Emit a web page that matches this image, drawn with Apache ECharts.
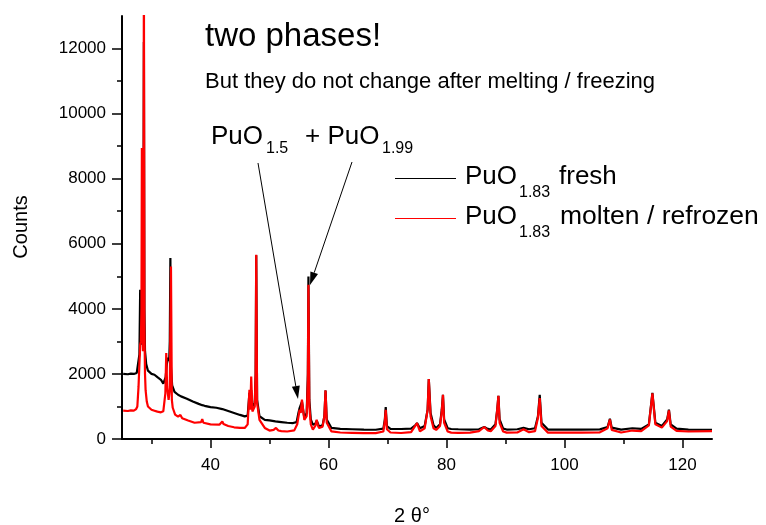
<!DOCTYPE html>
<html><head><meta charset="utf-8">
<script src="https://cdn.jsdelivr.net/npm/echarts@6.0.0/dist/echarts.min.js"></script>
<style>html,body{margin:0;padding:0;background:#fff}#c{width:766px;height:525px}</style>
</head><body><div id="c"></div>
<script>
// [2theta, counts]
const freshPoints = [[25.2,2000],[26,1990],[26.5,2010],[27,2000],[27.5,2030],[27.8,2080],[27.95,2600],[28.08,4590],[28.2,3000],[28.3,2900],[28.37,3300],[28.5,3100],[28.62,5000],[28.71,12200],[28.8,4000],[28.9,2700],[29.1,2300],[29.4,2100],[30,2000],[30.5,1975],[31,1900],[31.6,1820],[32.0,1700],[32.2,1640],[32.4,1900],[32.6,2300],[32.8,2500],[33.0,2400],[33.1,3000],[33.2,5560],[33.3,2200],[33.5,1650],[33.9,1450],[34.5,1360],[35,1310],[36,1240],[37,1150],[37.3,1110],[38,1080],[38.6,1040],[39,1020],[40,980],[41,960],[42,920],[43,860],[44,800],[45,740],[45.8,695],[46.3,720],[46.6,1420],[46.75,1000],[46.9,1500],[47.1,1000],[47.5,1100],[47.65,2000],[47.75,5650],[47.9,1200],[48.3,700],[49.2,590],[50,570],[51,540],[52,520],[53,500],[54,490],[54.6,520],[54.9,800],[55.1,950],[55.3,900],[55.5,1150],[55.9,650],[56.3,800],[56.5,2000],[56.6,4995],[56.75,1200],[57.0,600],[57.35,440],[57.8,480],[58.0,560],[58.2,480],[58.4,380],[59.0,420],[59.3,700],[59.5,1493],[59.7,600],[60.5,340],[62,310],[64,300],[66,290],[68,285],[69.3,320],[69.55,600],[69.7,983],[69.9,400],[70.5,310],[72.3,307],[74,320],[74.7,420],[75.0,490],[75.5,330],[76.3,400],[76.8,900],[77.0,1843],[77.3,800],[77.8,420],[78.25,340],[78.9,450],[79.2,900],[79.4,1360],[79.6,600],[80.2,330],[80.8,307],[82,300],[84,290],[85.5,300],[86.4,369],[87,310],[87.5,290],[88.3,450],[88.6,900],[88.8,1330],[89.0,600],[89.6,320],[90.2,290],[92,300],[93.05,340],[94,300],[95,330],[95.5,700],[95.8,1360],[96.1,500],[97.2,290],[100,290],[102.8,290],[106,295],[107.3,370],[107.7,623],[108,350],[109.6,290],[111.5,330],[113,310],[114.3,450],[114.9,1420],[115.4,500],[116.5,400],[117.4,600],[117.7,900],[118,450],[119,320],[121,290],[125,285]];
const moltenPoints = [[25.2,870],[26,860],[26.5,880],[27,870],[27.4,920],[27.6,1000],[27.8,1600],[27.95,2300],[28.08,2900],[28.2,3000],[28.3,4000],[28.37,8940],[28.45,3500],[28.55,2700],[28.63,4000],[28.71,14500],[28.8,3500],[28.9,2000],[29.0,1500],[29.2,1150],[29.4,1000],[30,900],[30.5,870],[31,840],[31.6,820],[32.0,850],[32.2,900],[32.35,1400],[32.5,2640],[32.65,1600],[32.9,1200],[33.1,1500],[33.3,5300],[33.45,1200],[33.6,960],[34.0,750],[34.5,685],[34.9,740],[35.2,640],[36.2,570],[37.3,500],[38.4,520],[38.6,614],[38.8,500],[40,450],[41.5,440],[42.0,540],[42.2,460],[43,400],[44,360],[45,340],[45.8,340],[46.3,450],[46.6,1515],[46.75,900],[46.9,1923],[47.1,848],[47.5,1000],[47.65,2000],[47.75,5660],[47.9,1100],[48.3,590],[49.2,340],[50,260],[50.7,280],[51.1,340],[51.5,260],[52,240],[53,230],[54.2,265],[54.7,450],[55.1,900],[55.3,800],[55.5,1210],[55.9,590],[56.3,700],[56.5,1800],[56.6,4740],[56.75,1000],[57.0,450],[57.35,285],[57.8,420],[58.0,590],[58.2,420],[58.4,340],[59.0,380],[59.3,700],[59.5,1493],[59.7,500],[60.5,235],[62,200],[64,190],[66,180],[68,180],[69.3,230],[69.55,550],[69.7,900],[69.9,300],[70.5,200],[72.3,184],[74,210],[74.7,400],[75.0,490],[75.5,235],[76.3,330],[76.8,900],[77.0,1843],[77.3,700],[77.8,330],[78.25,280],[78.9,400],[79.2,850],[79.4,1360],[79.6,500],[80.2,230],[80.8,195],[82,190],[84,195],[85.5,240],[86.4,369],[87,260],[87.5,240],[88.3,400],[88.6,900],[88.8,1330],[89.0,500],[89.6,230],[90.2,195],[92,200],[93.05,300],[94,210],[95,240],[95.5,650],[95.8,1260],[96.1,400],[97.2,195],[100,195],[102.8,195],[106,205],[107.3,330],[107.7,600],[108,280],[109.6,200],[111.5,260],[113,240],[114.3,420],[114.9,1400],[115.4,450],[116.5,350],[117.4,550],[117.7,880],[118,380],[119,250],[121,230],[125,240]];
const seriesNames = ['PuO1.83 fresh', 'PuO1.83 molten / refrozen'];
const seriesColors = ['#000000', '#ff0000'];
const xMajorTicks = [40, 60, 80, 100, 120];
const xMinorTicks = [30, 50, 70, 90, 110];
const yMajorTicks = [0, 2000, 4000, 6000, 8000, 10000, 12000];
const yMinorTicks = [1000, 3000, 5000, 7000, 9000, 11000];

const FONT = '"Liberation Sans", Arial, sans-serif';
const chart = echarts.init(document.getElementById('c'), null, {renderer: 'canvas'});

function txt(x, y, text, size, extra) {
  return {type: 'text', x: x, y: y, silent: true, z: 100,
    style: Object.assign({text: text, fontSize: size, fontFamily: FONT, fill: '#000', verticalAlign: 'middle', align: 'left'}, extra || {})};
}
function arrow(x1, y1, x2, y2) {
  const dx = x2 - x1, dy = y2 - y1, L = Math.hypot(dx, dy), ux = dx / L, uy = dy / L, hl = 13, hw = 4;
  const bx = x2 - ux * hl, by = y2 - uy * hl;
  return [
    {type: 'line', z: 100, silent: true, shape: {x1: x1, y1: y1, x2: bx, y2: by}, style: {stroke: '#000', lineWidth: 1}},
    {type: 'polygon', z: 100, silent: true, shape: {points: [[x2, y2], [bx - uy * hw, by + ux * hw], [bx + uy * hw, by - ux * hw]]}, style: {fill: '#000'}}
  ];
}

const axisCommon = {axisLine: {show: false}, splitLine: {show: false}, axisLabel: {show: false}};
const tickStyle = {color: '#000', width: 1.5};

const graphics = [
  txt(205, 37, 'two phases!', 33),
  txt(205, 82, 'But they do not change after melting / freezing', 22),
  txt(211, 137, 'PuO', 26),
  txt(266, 149, '1.5', 16),
  txt(305, 137, '+ PuO', 26),
  txt(382, 149, '1.99', 16),
  {type: 'line', silent: true, shape: {x1: 395, y1: 178.5, x2: 456, y2: 178.5}, style: {stroke: seriesColors[0], lineWidth: 1}},
  {type: 'line', silent: true, shape: {x1: 395, y1: 218.5, x2: 456, y2: 218.5}, style: {stroke: seriesColors[1], lineWidth: 1}},
  txt(465, 177, 'PuO', 26),
  txt(519, 193, '1.83', 16),
  txt(559, 177, 'fresh', 26),
  txt(465, 217, 'PuO', 26),
  txt(519, 233, '1.83', 16),
  txt(560, 217, 'molten / refrozen', 26.5),
  txt(21, 227, 'Counts', 20, {align: 'center'}),
  txt(412, 516, '2 \u03b8\u00b0', 20, {align: 'center'})
].concat(arrow(258, 163, 298, 399), arrow(352, 162, 310, 285));
graphics[14].rotation = Math.PI / 2;

chart.setOption({
  animation: false,
  backgroundColor: '#fff',
  grid: {left: 122, right: 54, top: 16, bottom: 86, containLabel: false, outerBoundsMode: 'none'},
  xAxis: [
    {type: 'value', min: 25, max: 125,
      axisLine: {show: true, onZero: false, lineStyle: {color: '#000', width: 2}},
      axisTick: {show: true, customValues: xMinorTicks, length: 5, lineStyle: tickStyle},
      axisLabel: {show: true, customValues: xMajorTicks, margin: 18, fontSize: 17, color: '#000', fontFamily: FONT,
        formatter: function (v) { return String(v); }},
      splitLine: {show: false}},
    Object.assign({type: 'value', min: 25, max: 125, position: 'bottom',
      axisTick: {show: true, customValues: xMajorTicks, length: 9, lineStyle: tickStyle}}, axisCommon)
  ],
  yAxis: [
    {type: 'value', min: 0, max: 13000,
      axisLine: {show: true, onZero: false, lineStyle: {color: '#000', width: 2}},
      axisTick: {show: true, customValues: yMinorTicks, length: 5, lineStyle: tickStyle},
      axisLabel: {show: true, customValues: yMajorTicks, margin: 16, fontSize: 17, color: '#000', fontFamily: FONT,
        formatter: function (v) { return String(v); }},
      splitLine: {show: false}},
    Object.assign({type: 'value', min: 0, max: 13000, position: 'left',
      axisTick: {show: true, customValues: yMajorTicks, length: 10, lineStyle: tickStyle}}, axisCommon)
  ],
  series: [
    {name: seriesNames[0], type: 'line', xAxisIndex: 0, yAxisIndex: 0, data: freshPoints, showSymbol: false, symbol: 'none', clip: true,
      lineStyle: {color: seriesColors[0], width: 2.2}, itemStyle: {color: seriesColors[0]}, z: 2},
    {name: seriesNames[1], type: 'line', xAxisIndex: 0, yAxisIndex: 0, data: moltenPoints, showSymbol: false, symbol: 'none', clip: true,
      lineStyle: {color: seriesColors[1], width: 2.2}, itemStyle: {color: seriesColors[1]}, z: 3}
  ],
  graphic: graphics
});
</script></body></html>
